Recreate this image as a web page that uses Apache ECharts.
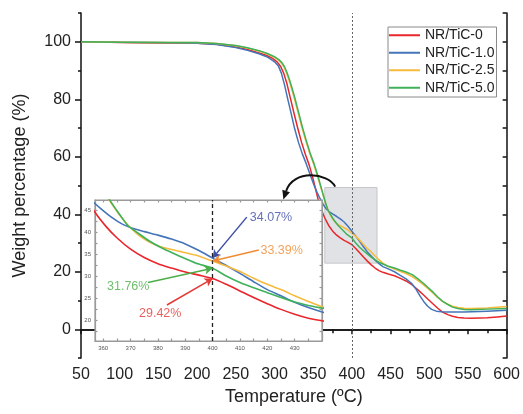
<!DOCTYPE html>
<html>
<head>
<meta charset="utf-8">
<script src="https://cdn.jsdelivr.net/npm/echarts@6/dist/echarts.min.js"></script>
<style>
  html, body { margin: 0; padding: 0; background: #fff; }
  #chart { width: 523px; height: 414px; }
</style>
</head>
<body>
<div id="chart"></div>
<script>
// TGA curves: [temperature (°C), weight (%)]
const seriesNames = ['NR/TiC-0', 'NR/TiC-1.0', 'NR/TiC-2.5', 'NR/TiC-5.0'];

const tgaTiC0 = [
  [50,100.0],[75,99.9],[100,99.7],[150,99.6],[200,99.5],[225,99.1],[250,98.2],[265,97.3],
  [280,96.1],[290,95.2],[297,94.3],[303,93.1],[308,91.4],[312,89.0],[316,85.5],[320,81.0],
  [325,75.4],[330,70.0],[335,65.0],[340,60.8],[345,57.0],[350,52.2],[354,47.8],[357,44.5],
  [361,41.3],[365,38.7],[370,36.1],[375,34.2],[380,32.8],[385,31.8],[390,30.9],[395,30.2],
  [400,29.42],[405,28.1],[410,26.6],[415,25.1],[420,23.7],[425,22.4],[430,21.3],[435,20.4],
  [440,19.8],[447,19.2],[455,18.6],[462,17.8],[470,16.8],[478,15.4],[485,13.8],[492,12.1],
  [498,10.5],[505,8.8],[511,7.3],[517,6.0],[524,5.1],[530,4.5],[537,4.1],[545,3.9],
  [554,3.8],[565,3.9],[575,4.0],[588,4.3],[600,4.6]
];
const tgaTiC10 = [
  [50,100.0],[75,99.9],[100,99.8],[150,99.7],[200,99.5],[225,99.0],[250,98.0],[265,97.0],
  [280,95.8],[290,94.8],[296,93.8],[301,92.8],[305,91.6],[309,89.0],[313,85.0],[317,80.2],
  [321,75.7],[326,69.8],[331,65.0],[336,61.0],[341,57.6],[346,53.8],[351,50.2],[355,47.6],
  [359,45.4],[363,43.4],[367,41.8],[371,40.8],[375,40.1],[380,39.3],[385,38.4],[390,37.3],
  [395,35.8],[400,34.07],[405,32.4],[410,30.6],[415,28.7],[420,26.9],[425,25.5],[430,24.0],
  [435,22.8],[440,21.8],[447,21.0],[455,20.0],[462,18.8],[470,17.5],[477,16.0],[483,13.9],
  [488,11.6],[493,9.6],[498,8.0],[503,6.9],[509,6.3],[516,6.1],[524,6.0],[545,6.0],
  [575,6.3],[600,6.6]
];
const tgaTiC25 = [
  [50,100.0],[75,99.9],[100,99.8],[150,99.7],[200,99.7],[225,99.4],[250,98.6],[265,97.8],
  [280,96.8],[290,95.8],[300,94.6],[305,93.7],[309,92.6],[312,91.4],[315,89.6],[318,87.3],
  [321,84.7],[325,80.9],[330,75.8],[335,70.6],[340,65.9],[345,61.6],[350,57.9],[355,53.7],
  [359,50.1],[362.5,47.0],[366,43.9],[369,41.6],[372,39.8],[375,38.4],[379,37.1],[383,36.3],
  [388,35.6],[394,34.7],[400,33.39],[405,32.3],[410,31.0],[415,29.5],[420,28.1],[425,26.9],
  [430,25.5],[435,24.2],[440,23.0],[447,21.8],[455,20.9],[462,20.2],[470,19.4],[478,18.3],
  [485,17.0],[492,15.6],[498,14.2],[505,12.5],[511,11.0],[517,9.7],[524,8.7],[530,8.0],
  [537,7.6],[545,7.3],[554,7.2],[575,7.4],[600,7.9]
];
const tgaTiC50 = [
  [50,100.0],[75,99.9],[100,99.8],[150,99.7],[200,99.7],[225,99.4],[250,98.7],[265,97.9],
  [280,96.9],[290,96.0],[300,94.8],[306,93.7],[310,92.6],[313,91.3],[316,89.4],[319,87.1],
  [322,84.5],[326,80.8],[331,75.6],[336,70.4],[341,65.7],[346,61.3],[351,57.7],[356,53.4],
  [360,49.6],[363,46.7],[366,44.0],[369,41.5],[372,40.1],[377,37.9],[382,36.2],[388,34.5],
  [394,32.9],[400,31.76],[405,30.0],[410,28.5],[415,27.3],[420,26.2],[425,25.1],[430,24.1],
  [435,23.3],[440,22.7],[447,21.9],[455,21.3],[462,20.6],[470,19.9],[478,19.0],[485,17.6],
  [492,16.1],[498,14.6],[505,12.9],[511,11.2],[517,9.8],[524,8.6],[530,7.7],[537,7.2],
  [545,6.9],[554,6.8],[575,7.0],[600,7.2]
];
const tgaData = [tgaTiC0, tgaTiC10, tgaTiC25, tgaTiC50];

// residual weight read at 400 °C
const markTemp = 400;
const weightAt400 = [29.42, 34.07, 33.39, 31.76];

// tick labels
const mainYLabels = [0, 20, 40, 60, 80, 100];
const insetXLabels = [360, 370, 380, 390, 400, 410, 420, 430];
const insetXTicks = [360, 365, 370, 375, 380, 385, 390, 395, 400, 405, 410, 415, 420, 425, 430, 435];
const insetYLabels = [20, 25, 30, 35, 40, 45];
const insetYTicks = [17.5, 20, 22.5, 25, 27.5, 30, 32.5, 35, 37.5, 40, 42.5, 45];

// styling / layout
const lineColors = ['#e8262b', '#4475b8', '#f6bb3c', '#3fb15b'];
const calloutColors = ['#e33a36', '#3d4ea6', '#f08c33', '#4bae47'];
const calloutText = [[373.1, 21.4], [413.6, 43.2], [417.5, 35.9], [361.4, 27.7]];
const calloutFrom = [[383.3, 23.4], [412.5, 43.4], [416.9, 35.9], [376.4, 28.5]];
const zoomBox = [[365, 23], [432.5, 49.3]];
const FONT = '"Liberation Sans", Arial, Helvetica, sans-serif';

const chart = echarts.init(document.getElementById('chart'), null, { renderer: 'canvas' });

const black = { color: '#111', width: 1.5 };
const insetGray = { color: '#9a9a9a', width: 1.2 };

const mainSeries = seriesNames.map((name, i) => ({
  type: 'line', name, data: tgaData[i],
  xAxisIndex: 0, yAxisIndex: 0,
  showSymbol: false, smooth: false,
  lineStyle: { width: 1.5, color: lineColors[i], join: 'round' },
  itemStyle: { color: lineColors[i] },
  z: 2, silent: true
}));

mainSeries[0].markArea = {
  silent: true,
  itemStyle: { color: '#e1e2e6', borderColor: '#c6c6ca', borderWidth: 1 },
  data: [[{ coord: zoomBox[0] }, { coord: zoomBox[1] }]]
};
mainSeries[0].markLine = {
  silent: true, symbol: 'none', label: { show: false },
  lineStyle: { type: [2, 2], color: '#666', width: 1 },
  data: [{ xAxis: markTemp }]
};

const insetSeries = seriesNames.map((name, i) => ({
  type: 'line', name, data: tgaData[i],
  xAxisIndex: 2, yAxisIndex: 3,
  showSymbol: false, smooth: 0.25, clip: true,
  lineStyle: { width: 1.6, color: lineColors[i], join: 'round' },
  itemStyle: { color: lineColors[i] },
  z: 5, silent: true
}));

const arrowLines = weightAt400.map((v, i) => ([
  { coord: calloutFrom[i], lineStyle: { color: calloutColors[i], width: 1.5, type: 'solid' } },
  { coord: [markTemp, v] }
]));

insetSeries[0].markLine = {
  silent: true, z: 7,
  symbol: ['none', 'arrow'], symbolSize: [7, 8],
  label: { show: false },
  data: [
    [{ coord: [markTemp, 15.2], symbol: 'none', lineStyle: { color: '#222', width: 1.3, type: [4, 3] } },
     { coord: [markTemp, 47.3], symbol: 'none' }]
  ].concat(arrowLines)
};

const calloutSeries = {
  type: 'scatter', xAxisIndex: 2, yAxisIndex: 3,
  symbolSize: 0, z: 8, silent: true,
  data: weightAt400.map((v, i) => ({
    value: calloutText[i],
    label: {
      show: true, position: 'right', distance: 0,
      formatter: v.toFixed(2) + '%',
      color: calloutColors[i], fontSize: 12.5, fontFamily: FONT
    }
  }))
};

chart.setOption({
  animation: false,
  backgroundColor: '#fff',
  textStyle: { fontFamily: FONT },
  legend: {
    data: seriesNames.map(n => ({ name: n, icon: 'rect' })),
    orient: 'vertical', left: 388, top: 27,
    padding: [0, 2, 1, 1], itemGap: 1,
    itemWidth: 31, itemHeight: 2,
    borderColor: '#8a8a8a', borderWidth: 1,
    textStyle: { fontSize: 14, lineHeight: 16.5, color: '#222', fontFamily: FONT },
    selectedMode: false
  },
  grid: [
    { left: 81, top: 13, width: 428, height: 345 },
    { left: 95, top: 200, width: 227, height: 141, show: true, backgroundColor: '#fff',
      borderColor: '#9a9a9a', borderWidth: 1.2, z: 3 }
  ],
  xAxis: [
    { type: 'value', gridIndex: 0, position: 'bottom', min: 50, max: 600, interval: 50,
      name: 'Temperature (ºC)', nameLocation: 'middle', nameGap: 28,
      nameTextStyle: { fontSize: 18, color: '#222', fontFamily: FONT },
      axisLine: { lineStyle: black },
      axisTick: { inside: false, length: 5, lineStyle: black },
      minorTick: { show: true, splitNumber: 2, length: 3, lineStyle: black },
      axisLabel: { fontSize: 16, color: '#222', margin: 9, fontFamily: FONT },
      splitLine: { show: false } },
    { type: 'value', gridIndex: 0, position: 'top', min: 50, max: 600, interval: 25,
      axisLine: { lineStyle: black },
      axisTick: { inside: true, length: 4, lineStyle: black },
      axisLabel: { show: false }, splitLine: { show: false } },
    { type: 'value', gridIndex: 1, position: 'bottom', min: 357, max: 440, z: 4,
      axisLine: { lineStyle: insetGray },
      axisTick: { inside: true, length: 2.5, customValues: insetXTicks, lineStyle: insetGray },
      axisLabel: { customValues: insetXLabels, fontSize: 6, color: '#555', margin: 4, fontFamily: FONT },
      splitLine: { show: false } },
    { type: 'value', gridIndex: 1, position: 'top', min: 357, max: 440, z: 4,
      axisLine: { lineStyle: insetGray },
      axisTick: { inside: true, length: 2.5, customValues: insetXTicks, lineStyle: insetGray },
      axisLabel: { show: false }, splitLine: { show: false } }
  ],
  yAxis: [
    { type: 'value', gridIndex: 0, position: 'left', min: -10, max: 110, interval: 10,
      name: 'Weight percentage (%)', nameLocation: 'middle', nameGap: 52,
      nameTextStyle: { fontSize: 18, color: '#222', fontFamily: FONT },
      axisLine: { lineStyle: black },
      axisTick: { inside: false, length: 3, lineStyle: black },
      axisLabel: { fontSize: 16, color: '#222', margin: 10, fontFamily: FONT,
        formatter: v => (mainYLabels.indexOf(v) >= 0 ? String(v) : '') },
      splitLine: { show: false } },
    { type: 'value', gridIndex: 0, position: 'left', min: -10, max: 110,
      axisLine: { show: false },
      axisTick: { inside: false, length: 6, customValues: mainYLabels, lineStyle: black },
      axisLabel: { show: false }, splitLine: { show: false } },
    { type: 'value', gridIndex: 0, position: 'right', min: -10, max: 110, interval: 10,
      axisLine: { lineStyle: black },
      axisTick: { inside: true, length: 4, lineStyle: black },
      axisLabel: { show: false }, splitLine: { show: false } },
    { type: 'value', gridIndex: 1, position: 'left', min: 15.2, max: 47.3, z: 4,
      axisLine: { lineStyle: insetGray },
      axisTick: { inside: true, length: 2.5, customValues: insetYTicks, lineStyle: insetGray },
      axisLabel: { customValues: insetYLabels, fontSize: 6, color: '#555', margin: 4, fontFamily: FONT },
      splitLine: { show: false } },
    { type: 'value', gridIndex: 1, position: 'right', min: 15.2, max: 47.3, z: 4,
      axisLine: { lineStyle: insetGray },
      axisTick: { inside: true, length: 2.5, customValues: insetYTicks, lineStyle: insetGray },
      axisLabel: { show: false }, splitLine: { show: false } }
  ],
  series: mainSeries.concat(insetSeries, [calloutSeries])
});

// curved pointer from the shaded window to the magnified view (axis units of the main plot)
const pointer = { start: [378.4, 49.6], c1: [369.4, 54.4], c2: [324.3, 55.8], end: [311.5, 45.1] };
function px(p) { return chart.convertToPixel({ gridIndex: 0 }, p); }
const p0 = px(pointer.start), p1 = px(pointer.c1), p2 = px(pointer.c2), p3 = px(pointer.end);
let dx = p3[0] - p2[0], dy = p3[1] - p2[1];
const len = Math.hypot(dx, dy); dx /= len; dy /= len;
const headLen = 9, headHalf = 4;
const base = [p3[0] - dx * headLen, p3[1] - dy * headLen];
chart.setOption({
  graphic: [
    { type: 'bezierCurve', z: 20, silent: true,
      shape: { x1: p0[0], y1: p0[1], cpx1: p1[0], cpy1: p1[1], cpx2: p2[0], cpy2: p2[1], x2: base[0], y2: base[1] },
      style: { stroke: '#111', lineWidth: 2, fill: null } },
    { type: 'polygon', z: 20, silent: true,
      shape: { points: [p3, [base[0] - dy * headHalf, base[1] + dx * headHalf], [base[0] + dy * headHalf, base[1] - dx * headHalf]] },
      style: { fill: '#111' } }
  ]
});
</script>
</body>
</html>
